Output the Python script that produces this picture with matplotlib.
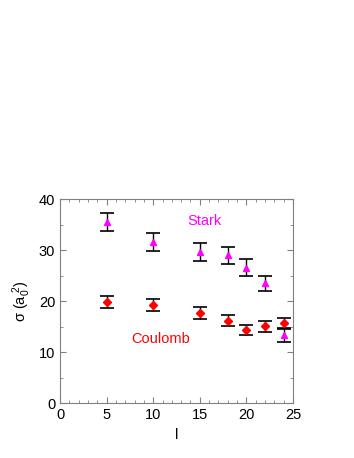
import numpy as np
import matplotlib.pyplot as plt
from matplotlib.ticker import MultipleLocator

plt.rcParams['font.family'] = ['Liberation Sans', 'DejaVu Sans']
plt.rcParams['mathtext.default'] = 'regular'

# datos
l_vals = [5, 10, 15, 18, 20, 22, 24]
stark = [35.6, 31.6, 29.7, 29.0, 26.6, 23.5, 13.3]
stark_err = [1.8, 1.7, 1.7, 1.65, 1.6, 1.5, 1.35]
coulomb = [19.8, 19.3, 17.7, 16.2, 14.4, 15.1, 15.7]
coulomb_err = [1.2, 1.15, 1.15, 1.1, 0.95, 1.1, 1.0]

fig = plt.figure(figsize=(3.54, 4.58), dpi=100)
ax = fig.add_axes([0.1695, 0.1194, 0.6582, 0.4454])

ax.errorbar(l_vals, stark, yerr=stark_err, fmt='^', color='magenta', ms=5,
            ecolor='black', elinewidth=1, capsize=4.7, capthick=1.2)
ax.errorbar(l_vals, coulomb, yerr=coulomb_err, fmt='D', color='red', ms=3.6,
            ecolor='black', elinewidth=1, capsize=4.7, capthick=1.2)

ax.text(15.5, 35.8, 'Stark', color='magenta', fontsize=10.5, ha='center', va='center')
ax.text(10.8, 12.6, 'Coulomb', color='red', fontsize=10.5, ha='center', va='center')

ax.set_xlim(0, 25)
ax.set_ylim(0, 40)
ax.xaxis.set_major_locator(MultipleLocator(5))
ax.xaxis.set_minor_locator(MultipleLocator(1))
ax.yaxis.set_major_locator(MultipleLocator(10))
ax.yaxis.set_minor_locator(MultipleLocator(5))
ax.tick_params(which='both', direction='in', top=True, right=True, color='gray',
               labelsize=10.5)
ax.tick_params(which='major', length=4)
ax.tick_params(which='minor', length=2)
for s in ax.spines.values():
    s.set_color('gray')
    s.set_linewidth(0.8)

ax.set_xlabel('l', fontsize=10.5)
ax.set_ylabel(r'σ (a$_0^{\ 2}$)', fontsize=10.5)

fig.savefig('out.png', dpi=100)
